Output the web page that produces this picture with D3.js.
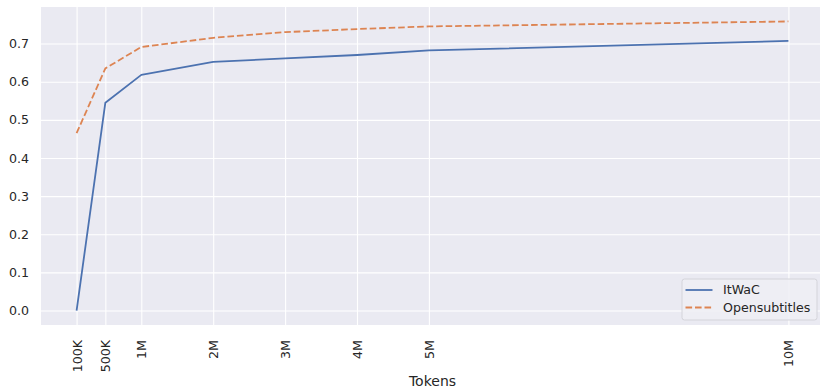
<!DOCTYPE html>
<html>
<head>
<meta charset="utf-8">
<script src="https://cdn.jsdelivr.net/npm/d3@7"></script>
<style>
  html, body { margin: 0; padding: 0; background: #ffffff; }
  svg { display: block; }
  text { font-family: "DejaVu Sans", sans-serif; fill: #262626; }
</style>
</head>
<body>
<div id="chart"></div>
<script>
// ---- data ----
const tokens = [100000, 500000, 1000000, 2000000, 3000000, 4000000, 5000000, 10000000];
const tickLabels = ["100K", "500K", "1M", "2M", "3M", "4M", "5M", "10M"];
const itwac = [0.0, 0.545, 0.618, 0.652, 0.661, 0.670, 0.682, 0.707];
const opensubtitles = [0.465, 0.635, 0.691, 0.715, 0.730, 0.738, 0.745, 0.758];
const seriesNames = ["ItWaC", "Opensubtitles"];
const yTicks = [0.0, 0.1, 0.2, 0.3, 0.4, 0.5, 0.6, 0.7];

const W = 820, H = 388;
const plot = { left: 41, top: 7, right: 824, bottom: 325 };
const tickFont = "12.6px";

const svg = d3.select("#chart").append("svg")
  .attr("width", W).attr("height", H);

const xMin = d3.min(tokens), xMax = d3.max(tokens);
const xPad = (xMax - xMin) * 0.05;
const x = d3.scaleLinear().domain([xMin - xPad, xMax + xPad]).range([plot.left, plot.right]);

const allY = itwac.concat(opensubtitles);
const yMin = d3.min(allY), yMax = d3.max(allY);
const yPad = (yMax - yMin) * 0.05;
const y = d3.scaleLinear().domain([yMin - yPad, yMax + yPad]).range([plot.bottom, plot.top]);

// background
svg.append("rect")
  .attr("x", plot.left).attr("y", plot.top)
  .attr("width", plot.right - plot.left).attr("height", plot.bottom - plot.top)
  .attr("fill", "#EAEAF2");

// grid via axes
const xAxis = d3.axisBottom(x).tickValues(tokens)
  .tickFormat((d, i) => tickLabels[i])
  .tickSize(-(plot.bottom - plot.top)).tickPadding(0);
const gx = svg.append("g").attr("transform", `translate(0,${plot.bottom})`).call(xAxis);
gx.select(".domain").remove();
gx.selectAll(".tick line").attr("stroke", "#ffffff").attr("stroke-width", 1.1);
gx.selectAll(".tick text")
  .attr("transform", "rotate(-90)")
  .attr("x", -15).attr("y", 0).attr("dy", "0.35em")
  .attr("text-anchor", "end")
  .style("font-size", tickFont).style("fill", "#262626");

const yAxis = d3.axisLeft(y).tickValues(yTicks).tickFormat(d3.format(".1f"))
  .tickSize(-(plot.right - plot.left)).tickPadding(12);
const gy = svg.append("g").attr("transform", `translate(${plot.left},0)`).call(yAxis);
gy.select(".domain").remove();
gy.selectAll(".tick line").attr("stroke", "#ffffff").attr("stroke-width", 1.1);
gy.selectAll(".tick text").style("font-size", tickFont).style("fill", "#262626");

// lines
const line = d3.line().x((d, i) => x(tokens[i])).y(d => y(d));
svg.append("path").datum(itwac)
  .attr("d", line).attr("fill", "none")
  .attr("stroke", "#4C72B0").attr("stroke-width", 1.8)
  .attr("stroke-linejoin", "round").attr("stroke-linecap", "butt");
svg.append("path").datum(opensubtitles)
  .attr("d", line).attr("fill", "none")
  .attr("stroke", "#DD8452").attr("stroke-width", 1.8)
  .attr("stroke-dasharray", "6.6,2.9")
  .attr("stroke-linecap", "butt");

// x label
svg.append("text")
  .attr("x", (plot.left + plot.right) / 2).attr("y", 386)
  .attr("text-anchor", "middle")
  .style("font-size", "14px")
  .text("Tokens");

// legend
const lg = svg.append("g").attr("transform", "translate(682,279)");
lg.append("rect").attr("width", 135).attr("height", 41)
  .attr("rx", 2.5).attr("ry", 2.5)
  .attr("fill", "#EEEEF4").attr("fill-opacity", 0.85)
  .attr("stroke", "#D4D4DA").attr("stroke-width", 1);
const colors = ["#4C72B0", "#DD8452"];
const dashes = [null, "6.6,2.9"];
seriesNames.forEach((name, i) => {
  const cy = 11 + i * 17.5;
  lg.append("line").attr("x1", 3.5).attr("x2", 30.5).attr("y1", cy).attr("y2", cy)
    .attr("stroke", colors[i]).attr("stroke-width", 1.8)
    .attr("stroke-dasharray", dashes[i]);
  lg.append("text").attr("x", 41).attr("y", cy).attr("dy", "0.35em")
    .style("font-size", tickFont).text(name);
});
</script>
</body>
</html>
